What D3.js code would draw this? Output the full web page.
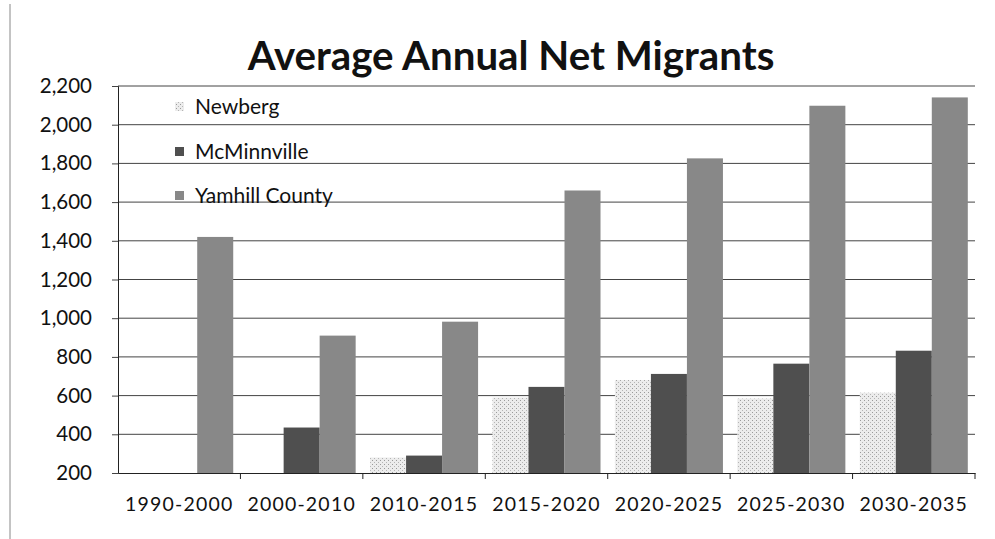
<!DOCTYPE html>
<html>
<head>
<meta charset="utf-8">
<script src="https://cdn.jsdelivr.net/npm/d3@7/dist/d3.min.js"></script>
<style>
  html, body { margin: 0; padding: 0; background: #fff; }
  svg { display: block; }
  text { font-family: Lato, "Open Sans", sans-serif; }
</style>
</head>
<body>
<svg id="chart" width="995" height="539"></svg>
<script>
const categories = ["1990-2000", "2000-2010", "2010-2015", "2015-2020", "2020-2025", "2025-2030", "2030-2035"];
const seriesNames = ["Newberg", "McMinnville", "Yamhill County"];
const newberg     = [null, null, 280, 590, 680, 585, 615];
const mcminnville = [null, 435, 290, 645, 712, 765, 832];
const yamhill     = [1420, 910, 982, 1660, 1826, 2098, 2141];
const yTicks = [200, 400, 600, 800, 1000, 1200, 1400, 1600, 1800, 2000, 2200];
const title = "Average Annual Net Migrants";

const seriesValues = [newberg, mcminnville, yamhill];
const colors = ["#dedede", "#4f4f4f", "#888888"];

const svg = d3.select("#chart");
const pLeft = 118, pRight = 975, pTop = 86, pBottom = 473;

const x = d3.scaleBand().domain(categories).range([pLeft, pRight]).paddingInner(0).paddingOuter(0);
const xs = d3.scaleBand().domain(seriesNames).range([0, x.bandwidth()]).paddingInner(0).paddingOuter(0.2);
const y = d3.scaleLinear().domain([200, 2200]).range([pBottom, pTop]);

// page edge line on left
svg.append("line").attr("x1", 10).attr("x2", 10).attr("y1", 4).attr("y2", 539)
  .attr("stroke", "#888").attr("stroke-width", 1);

// stipple pattern for Newberg
const defs = svg.append("defs");
const pat = defs.append("pattern").attr("id", "stip").attr("patternUnits", "userSpaceOnUse")
  .attr("width", 4).attr("height", 4);
pat.append("rect").attr("width", 4).attr("height", 4).attr("fill", "#ececec");
pat.append("rect").attr("x", 0).attr("y", 0).attr("width", 1).attr("height", 1).attr("fill", "#9a9a9a");
pat.append("rect").attr("x", 2).attr("y", 2).attr("width", 1).attr("height", 1).attr("fill", "#b5b5b5");

// gridlines
svg.append("g").selectAll("line").data(yTicks.slice(1)).join("line")
  .attr("x1", pLeft).attr("x2", pRight)
  .attr("y1", d => y(d)).attr("y2", d => y(d))
  .attr("stroke", "#444").attr("stroke-width", 1);

// bars
const fills = ["url(#stip)", colors[1], colors[2]];
seriesNames.forEach((s, si) => {
  svg.append("g").selectAll("rect")
    .data(categories.map((c, i) => ({ c, v: seriesValues[si][i] })).filter(d => d.v != null && d.v > 200))
    .join("rect")
    .attr("x", d => x(d.c) + xs(s))
    .attr("width", xs.bandwidth())
    .attr("y", d => y(d.v))
    .attr("height", d => y(200) - y(d.v))
    .attr("fill", fills[si]);
});

// y axis
const yAxis = svg.append("g").attr("transform", `translate(${pLeft},0)`)
  .call(d3.axisLeft(y).tickValues(yTicks).tickFormat(d3.format(",")).tickSize(6).tickPadding(20));
yAxis.select(".domain").attr("stroke", "#222");
yAxis.selectAll(".tick line").attr("stroke", "#444");
yAxis.selectAll(".tick text").attr("font-size", 20.5).attr("fill", "#111")
  .attr("font-family", "Lato, sans-serif");

// x axis
const xAxis = svg.append("g").attr("transform", `translate(0,${pBottom})`)
  .call(d3.axisBottom(x).tickSize(0).tickPadding(24));
xAxis.select(".domain").attr("stroke", "#222");
xAxis.selectAll(".tick text").attr("font-size", 19.5).attr("fill", "#111")
  .attr("letter-spacing", "1.2px").attr("font-family", "Lato, sans-serif");
// boundary ticks
const bounds = categories.map(c => x(c) + x.bandwidth());
svg.append("g").selectAll("line").data(bounds).join("line")
  .attr("x1", d => d).attr("x2", d => d).attr("y1", pBottom).attr("y2", pBottom + 6)
  .attr("stroke", "#222");

// title
const t = svg.append("text").attr("x", 511).attr("y", 70).attr("text-anchor", "middle")
  .attr("font-weight", "bold").attr("font-size", 36).attr("fill", "#111").text(title);
const tw = t.node().getComputedTextLength();
t.attr("font-size", 36 * 527 / tw);

// legend
const legendY = [114, 159, 203];
const lg = svg.append("g");
seriesNames.forEach((s, i) => {
  lg.append("rect").attr("x", 175).attr("y", legendY[i] - 12).attr("width", 9).attr("height", 9)
    .attr("fill", fills[i]);
  lg.append("text").attr("x", 195).attr("y", legendY[i]).attr("font-size", 21).attr("fill", "#111").text(s);
});
</script>
</body>
</html>
